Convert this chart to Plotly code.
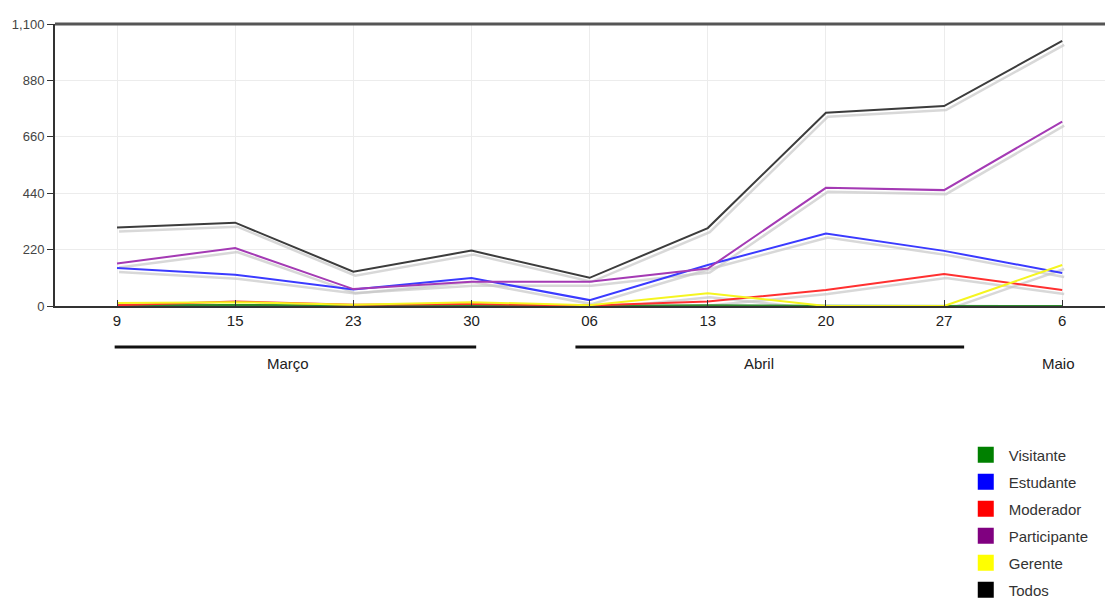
import plotly.graph_objects as go

# ---- data ----
categories = ["9", "15", "23", "30", "06", "13", "20", "27", "6"]
months = ["Março", "Abril", "Maio"]
month_of_category = [0, 0, 0, 0, 1, 1, 1, 1, 2]

visitante = [3, 4, 2, 3, 1, 3, 1, 0, 0]
estudante = [148, 122, 64, 109, 23, 160, 283, 215, 129]
moderador = [3, 18, 5, 8, 2, 18, 62, 125, 62]
participante = [166, 226, 66, 95, 95, 146, 461, 452, 719]
gerente = [12, 15, 5, 15, 3, 50, 0, 0, 160]
todos = [306, 325, 134, 216, 110, 304, 754, 780, 1034]

series = [
    ("Visitante", visitante, "#2e8b2e", "#008000"),
    ("Estudante", estudante, "#3a3aff", "#0000ff"),
    ("Moderador", moderador, "#ff3030", "#ff0000"),
    ("Participante", participante, "#a43ab4", "#800080"),
    ("Gerente", gerente, "#f5f520", "#ffff00"),
    ("Todos", todos, "#3c3c3c", "#000000"),
]

y_ticks = [0, 220, 440, 660, 880, 1100]

# ---- layout geometry (page has an 8px body margin) ----
W, H = 1105, 592
ML, MR, MT = 47, 0, 16
plot_h = 282
MB = H - MT - plot_h
plot_w = W - ML - MR
x_range = [-0.525, len(categories) - 1 + 0.43]
y_range = [0, 1100]
px_per_x = plot_w / (x_range[1] - x_range[0])
px_per_y = plot_h / (y_range[1] - y_range[0])
shadow_dx, shadow_dy = 2, 4  # pixels
bracket_pad = {0: (0.02, 0.04), 1: (0.12, 0.17)}  # (left, right) in category units
label_shift = {0: -0.05, 1: -0.07, 2: -0.03}

fig = go.Figure()

# shadows on the (hidden) base axes, shifted by a few pixels
for name, vals, lc, _ in series:
    fig.add_trace(go.Scatter(
        x=categories, y=vals, mode="lines", xaxis="x", yaxis="y",
        line=dict(color="rgba(200,200,200,0.7)", width=2.5),
        showlegend=False, hoverinfo="skip"))

# real lines on the visible overlay axes
for name, vals, lc, _ in series:
    fig.add_trace(go.Scatter(
        x=categories, y=vals, mode="lines", xaxis="x2", yaxis="y2",
        line=dict(color=lc, width=2), name=name, showlegend=False,
        legendgroup=name))

# legend entries with square swatches
for name, vals, _, sc in series:
    fig.add_trace(go.Scatter(
        x=[None], y=[None], mode="markers", xaxis="x2", yaxis="y2",
        marker=dict(symbol="square", size=18, color=sc), name=name,
        legendgroup=name))

shapes = []
annotations = []
for mi, m in enumerate(months):
    idx = [i for i, mm in enumerate(month_of_category) if mm == mi]
    center = sum(idx) / len(idx) + label_shift[mi]
    annotations.append(dict(
        x=center, y=-0.205, xref="x2", yref="paper", text=m, showarrow=False,
        yanchor="middle", font=dict(size=15, color="#222",
                                    family="Liberation Sans Narrow, Liberation Sans, Arial")))
    if len(idx) > 1:
        pl, pr = bracket_pad[mi]
        shapes.append(dict(
            type="line", xref="x2", yref="paper",
            x0=idx[0] - pl, x1=idx[-1] + pr, y0=-0.145, y1=-0.145,
            line=dict(color="#111", width=3)))

fig.update_layout(
    width=W, height=H,
    margin=dict(l=ML, r=MR, t=MT, b=MB, autoexpand=False),
    plot_bgcolor="white", paper_bgcolor="white",
    font=dict(family="Liberation Sans Narrow, Liberation Sans, Arial", color="#333"),
    xaxis=dict(type="category", categoryorder="array", categoryarray=categories,
               range=[x_range[0] - shadow_dx / px_per_x, x_range[1] - shadow_dx / px_per_x],
               visible=False, fixedrange=True),
    yaxis=dict(range=[y_range[0] + shadow_dy / px_per_y, y_range[1] + shadow_dy / px_per_y],
               visible=False, fixedrange=True),
    xaxis2=dict(type="category", categoryorder="array", categoryarray=categories,
                overlaying="x", range=x_range,
                showgrid=True, gridcolor="#ececec", gridwidth=1,
                showline=True, linecolor="#333", linewidth=2,
                ticks="inside", ticklen=6, tickcolor="#333",
                tickfont=dict(size=15, color="#222"), zeroline=False),
    yaxis2=dict(overlaying="y", range=y_range, tickvals=y_ticks,
                ticktext=[f"{v:,}" for v in y_ticks],
                showgrid=True, gridcolor="#ececec", gridwidth=1,
                showline=True, linecolor="#333", linewidth=2,
                ticks="outside", ticklen=6, tickcolor="#333",
                tickfont=dict(size=13, color="#444"), zeroline=False),
    legend=dict(x=0.858, y=-0.47, xanchor="left", yanchor="top",
                font=dict(size=15, color="#333", family="Liberation Sans, Arial"),
                bgcolor="rgba(0,0,0,0)", itemwidth=36, tracegroupgap=4.5),
    shapes=shapes + [dict(type="line", xref="paper", yref="paper", x0=0, x1=1, y0=1, y1=1,
                          line=dict(color="#555", width=3))],
    annotations=annotations,
)

fig.write_html("out.html")
